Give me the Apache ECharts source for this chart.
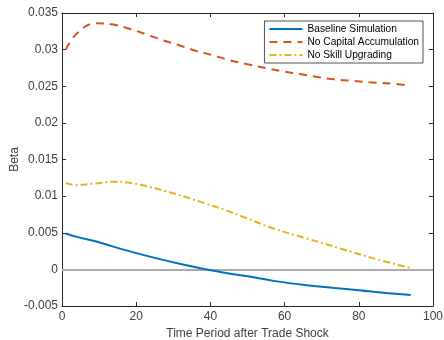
<!DOCTYPE html>
<html><head><meta charset="utf-8">
<script src="https://cdn.jsdelivr.net/npm/echarts@6/dist/echarts.min.js"></script>
<style>html,body{margin:0;padding:0;background:#fff}#c{width:444px;height:340px}</style>
</head><body><div id="c"></div>
<script>
var seriesNames = ['Baseline Simulation', 'No Capital Accumulation', 'No Skill Upgrading'];
var baselineT = [1, 4, 9, 13.4, 18.8, 25, 31.4, 37.7, 45, 52, 57, 66, 75, 84, 94];
var baselineV = [0.0049, 0.00444, 0.00385, 0.00317, 0.00239, 0.00157, 0.0008, 0.00012, -0.00057, -0.0011, -0.00157, -0.00216, -0.00261, -0.00307, -0.0035];
var capitalT = [1, 4, 9, 13.4, 18.4, 22.4, 27, 31.4, 36, 40.5, 45, 50, 59, 64, 68.4, 73.3, 77.8, 82.8, 87.7, 94];
var capitalV = [0.0300, 0.0322, 0.0336, 0.03346, 0.03281, 0.03213, 0.03131, 0.03063, 0.02985, 0.02926, 0.02858, 0.02799, 0.02708, 0.02667, 0.0263, 0.02594, 0.02575, 0.02553, 0.0254, 0.0251];
var skillT = [1, 4, 9, 13.9, 17.5, 22.4, 27.8, 33.2, 38.6, 44.1, 49.5, 57, 66, 75, 84, 94];
var skillV = [0.0118, 0.0115, 0.01174, 0.01196, 0.01187, 0.01141, 0.01069, 0.00991, 0.009, 0.00809, 0.00704, 0.00559, 0.00422, 0.00286, 0.0015, 0.0002];
var xTicks = [0, 20, 40, 60, 80, 100];
var yTicks = [-0.005, 0, 0.005, 0.01, 0.015, 0.02, 0.025, 0.03, 0.035];
var xTitle = 'Time Period after Trade Shock';
var yTitle = 'Beta';

function pairs(t, v) { return t.map(function (x, i) { return [x, v[i]]; }); }
var axisCol = '#262626';
var labCol = '#404040';
var font = '"Liberation Sans", Arial, sans-serif';
var xStep = xTicks[1] - xTicks[0];
var yStep = 0.005;

var chart = echarts.init(document.getElementById('c'), null, {renderer: 'canvas'});
var xBase = {
  type: 'value', min: xTicks[0], max: xTicks[xTicks.length - 1], interval: xStep,
  axisLine: {show: true, onZero: false, lineStyle: {color: axisCol, width: 1}},
  axisTick: {show: true, inside: true, length: 4, lineStyle: {color: axisCol}},
  splitLine: {show: false}
};
var yBase = {
  type: 'value', min: yTicks[0], max: yTicks[yTicks.length - 1], interval: yStep,
  axisLine: {show: true, onZero: false, lineStyle: {color: axisCol, width: 1}},
  axisTick: {show: true, inside: true, length: 4, lineStyle: {color: axisCol}},
  splitLine: {show: false}
};
chart.setOption({
  animation: false,
  backgroundColor: '#fff',
  grid: {left: 62, right: 11, top: 13, bottom: 34, containLabel: false, outerBoundsMode: 'none'},
  textStyle: {fontFamily: font},
  xAxis: [
    Object.assign({}, xBase, {
      position: 'bottom',
      name: xTitle, nameLocation: 'middle', nameGap: 20,
      nameTextStyle: {color: labCol, fontSize: 12, fontFamily: font},
      axisLabel: {color: labCol, fontSize: 12, fontFamily: font, margin: 5}
    }),
    Object.assign({}, xBase, {position: 'top', axisLabel: {show: false}})
  ],
  yAxis: [
    Object.assign({}, yBase, {
      position: 'left',
      name: yTitle, nameLocation: 'middle', nameGap: 41, nameMoveOverlap: false,
      nameTextStyle: {color: labCol, fontSize: 12, fontFamily: font},
      axisLabel: {color: labCol, fontSize: 12, fontFamily: font, margin: 4,
        formatter: function (v) { return String(parseFloat(v.toFixed(3))); }}
    }),
    Object.assign({}, yBase, {position: 'right', axisLabel: {show: false}})
  ],
  legend: {
    orient: 'vertical', right: 21, top: 21,
    backgroundColor: '#fff', borderColor: axisCol, borderWidth: 0.8,
    padding: [3, 4, 3, 4], itemGap: 3, itemWidth: 33, itemHeight: 11,
    itemStyle: {opacity: 0},
    textStyle: {color: '#000', fontSize: 10.2, fontFamily: font},
    data: seriesNames
  },
  series: [
    {name: seriesNames[0], type: 'line', data: pairs(baselineT, baselineV), smooth: 0.4,
     showSymbol: false, symbol: 'none', z: 5,
     lineStyle: {color: '#0072BD', width: 2}, itemStyle: {color: '#0072BD'},
     markLine: {silent: true, symbol: 'none', label: {show: false},
       lineStyle: {color: '#ababab', width: 2, type: 'solid'}, data: [{yAxis: 0}]}},
    {name: seriesNames[1], type: 'line', data: pairs(capitalT, capitalV), smooth: 0.4,
     showSymbol: false, symbol: 'none', z: 5,
     lineStyle: {color: '#D95319', width: 2, type: [8, 6]}, itemStyle: {color: '#D95319'}},
    {name: seriesNames[2], type: 'line', data: pairs(skillT, skillV), smooth: 0.4,
     showSymbol: false, symbol: 'none', z: 5,
     lineStyle: {color: '#EDB120', width: 2, type: [7, 3, 2, 3]}, itemStyle: {color: '#EDB120'}}
  ]
});
</script></body></html>
